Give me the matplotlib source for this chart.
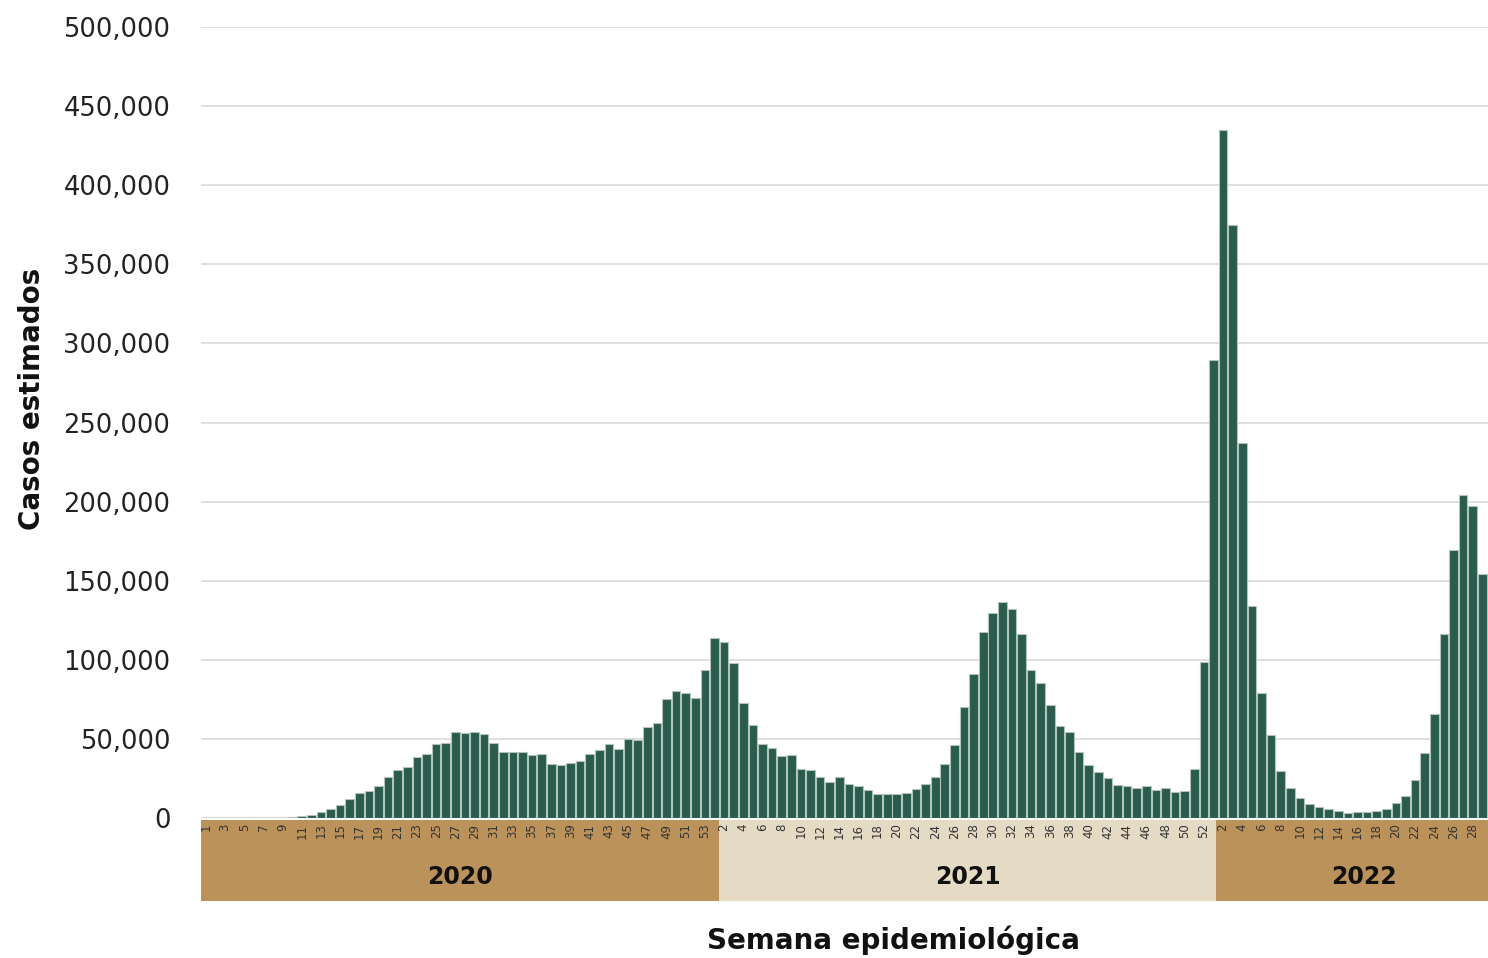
import matplotlib
matplotlib.use("Agg")
import matplotlib.pyplot as plt
from matplotlib.patches import Rectangle
import matplotlib.transforms as mtransforms
import numpy as np

# ---------------- data ----------------
years = ["2020", "2021", "2022"]
cases_2020 = [0, 0, 0, 0, 0, 0, 0, 0, 0, 400,
              1300, 2100, 3600, 5900, 8200, 12200, 15600, 17300, 20400, 26100,
              30100, 32400, 38600, 40500, 46600, 47200, 54200, 53500, 54400, 52900,
              47400, 41500, 41900, 41700, 40000, 40500, 34100, 33500, 35000, 35800,
              40500, 43000, 47000, 43600, 49700, 49300, 57700, 60000, 75000, 80500,
              78800, 75700, 93400]
cases_2021 = [113600, 111500, 97800, 72500, 58600, 46600, 44100, 39200, 40000, 31000,
              30500, 26000, 23000, 26000, 21500, 20200, 17900, 15200, 15000, 15000,
              16000, 18300, 21700, 26100, 34300, 45900, 70200, 90800, 117400, 129800,
              136500, 131900, 116100, 93600, 85100, 71200, 58000, 54200, 41500, 33500,
              29300, 25300, 20700, 20200, 19000, 20000, 17900, 18800, 16600, 17300,
              31000, 98800]
cases_2022 = [289800, 435200, 374700, 236900, 134000, 78800, 52300, 29900, 19200, 12500,
              8700, 7000, 5800, 4400, 2900, 3500, 3500, 4400, 5800, 9600,
              14000, 23800, 41300, 65700, 116000, 169500, 204100, 197400, 154400]
yticks = [0, 50000, 100000, 150000, 200000, 250000, 300000, 350000, 400000, 450000, 500000]

series = [cases_2020, cases_2021, cases_2022]
values = np.concatenate([np.array(s, dtype=float) for s in series])
x = np.arange(len(values))

# tick labels: odd weeks in 2020, even weeks in 2021/2022
tick_pos, tick_lab = [], []
offset = 0
for yi, s in enumerate(series):
    for w in range(1, len(s) + 1):
        if (yi == 0 and w % 2 == 1) or (yi > 0 and w % 2 == 0):
            tick_pos.append(offset + w - 1)
            tick_lab.append(str(w))
    offset += len(s)

# ---------------- style ----------------
plt.rcParams['font.family'] = ['DejaVu Sans']
bar_color = '#285C4D'
edge_color = '#b5c2bd'
tan = '#BB935A'
light = '#E5DAC4'

fig = plt.figure(figsize=(14.88, 9.58), dpi=100)
fig.patch.set_facecolor('white')
ax = fig.add_axes([201 / 1488, 140 / 958, 1 - 201 / 1488, (818 - 27) / 958])
ax.set_facecolor('none')

ax.bar(x, values, width=0.9, color=bar_color, edgecolor=edge_color,
       linewidth=0.8, zorder=2)

ax.set_xlim(-0.5, 133.6)
ax.set_ylim(0, 500000)
ax.set_yticks(yticks)
ax.set_yticklabels([f"{v:,}" for v in yticks], fontsize=18.5, color='#222222')
ax.tick_params(axis='y', length=0, pad=22)
ax.yaxis.grid(True, color='#e0e0e0', linewidth=1.4)
ax.set_axisbelow(True)

ax.set_xticks(tick_pos)
ax.set_xticklabels(tick_lab, rotation=90, fontsize=8.5, color='#333333',
                   va='top', ha='center')
ax.tick_params(axis='x', length=0, pad=4)

for sp in ax.spines.values():
    sp.set_visible(False)
ax.axhline(0, color='#d5d5d5', linewidth=1.6, zorder=1)

# year bands below the axis
trans = mtransforms.blended_transform_factory(ax.transData, ax.transAxes)
n20, n21 = len(cases_2020), len(cases_2021)
edges = [-0.5, n20 + 0.5, n20 + n21 + 0.25, n20 + n21 + 31]
band_colors = [tan, light, tan]
band_top = -2 / 791
band_bot = -83 / 791
for i, yr in enumerate(years):
    r = Rectangle((edges[i], band_bot), edges[i + 1] - edges[i], band_top - band_bot,
                  transform=trans, facecolor=band_colors[i], edgecolor='none',
                  clip_on=False, zorder=0.1)
    ax.add_patch(r)
    ax.text((edges[i] + edges[i + 1]) / 2, -59 / 791, yr, transform=trans,
            ha='center', va='center', fontsize=17, fontweight='bold',
            color='#111111', clip_on=False)

fig.text(32 / 1488, 1 - 399 / 958, 'Casos estimados', rotation=90,
         ha='center', va='center', fontsize=20, fontweight='bold', color='#111111')
fig.text(893 / 1488, 1 - 940 / 958, 'Semana epidemiológica',
         ha='center', va='center', fontsize=20, fontweight='bold', color='#111111')

fig.savefig('out.png', dpi=100, facecolor='white')
